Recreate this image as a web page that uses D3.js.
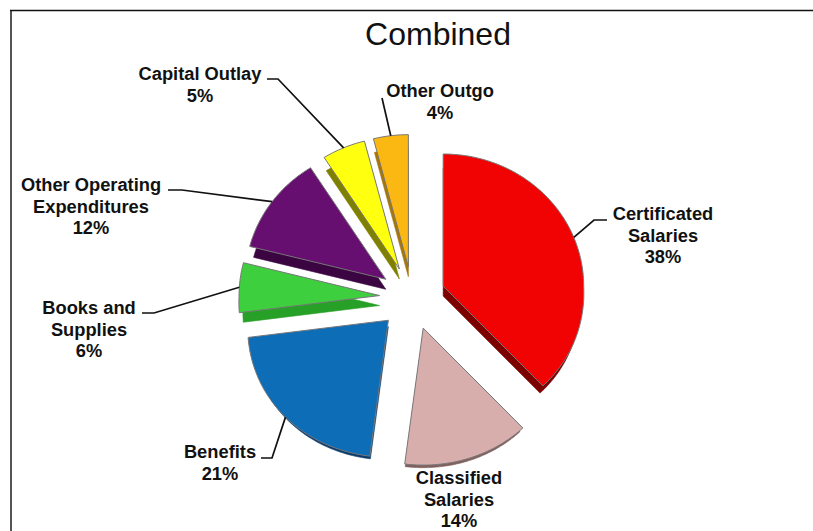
<!DOCTYPE html>
<html>
<head>
<meta charset="utf-8">
<style>
html,body{margin:0;padding:0;background:#fff;}
svg{display:block;}
text{font-family:"Liberation Sans",Arial,sans-serif;fill:#111;}
</style>
<script src="https://cdn.jsdelivr.net/npm/d3@7"></script>
</head>
<body>
<svg id="chart" width="813" height="531"></svg>
<script>
const categories = ["Certificated Salaries","Classified Salaries","Benefits","Books and Supplies","Other Operating Expenditures","Capital Outlay","Other Outgo"];
const shares = [38,14,21,6,12,5,4];
const labelLines = [["Certificated","Salaries"],["Classified","Salaries"],["Benefits"],["Books and","Supplies"],["Other Operating","Expenditures"],["Capital Outlay"],["Other Outgo"]];
const faceColors = ["#f20303","#d8aeac","#0d6db6","#3ecf3e","#660f70","#ffff10","#fbb812"];
const wallColors = ["#7c0000","#80605f","#0a3c6c","#27a027","#3a0540","#7f7f00","#a5760c"];

// Label anchor (centre x, first baseline) and leader start/knee for each slice
const labelAnchors = [[663,220],[459,484],[220,458],[89,314],[91,191],[200,80],[440,97]];
const leaderStarts = [[607,220],null,[261,458],[142,313],[168,190],[267,79],[382,98]];
const leaderKnees = [[594,220],null,[272,458],[154,313],[182,190],[278,79],null];

const svg = d3.select("#chart");
const W = 813, H = 531;
const cx = 412.5, cy = 297.5, rx = 140.5, explode = 33, depth = 10, wallInset = 4;
// The pie is viewed at a slant: the near half reads taller and wider than the far half
const tiltFar = 0.94, tiltNear = 0.975, nearWiden = 0.05;

// Polar position on the slanted disc; angle 0 points up, clockwise
const project = (a, r) => {
  const c = Math.cos(a);
  return [r*Math.sin(a)*(1 + nearWiden*Math.max(0,-c)), -r*c*(c > 0 ? tiltFar : tiltNear)];
};

// Frame: top and left rules only, running off the page
svg.append("path").attr("d", `M11,${H}V10`).attr("fill","none").attr("stroke","#555").attr("stroke-width",2);
svg.append("path").attr("d", `M10,10.5H${W}`).attr("fill","none").attr("stroke","#111").attr("stroke-width",1.5);

svg.append("text").attr("x",438).attr("y",45).attr("text-anchor","middle").attr("font-size",32).text("Combined");

const pie = d3.pie().sort(null).value(d => d)(shares);
const midAngle = d => (d.startAngle + d.endAngle) / 2;
const line = d3.line();

// Outline of one slice: apex, then the rim sampled along the projected ellipse
const outline = (d, radius) => {
  const steps = Math.ceil((d.endAngle - d.startAngle) / 0.02);
  const rim = d3.range(steps + 1).map(k =>
    project(d.startAngle + (d.endAngle - d.startAngle)*k/steps, radius));
  return line([[0,0], ...rim]) + "Z";
};

const slices = svg.append("g").selectAll("g").data(pie).join("g")
  .attr("transform", d => {
    const [ox, oy] = project(midAngle(d), explode);
    return `translate(${cx + ox},${cy + oy})`;
  });

// Side wall: a darker copy pushed downward, shallower for slices facing the viewer
slices.append("path").attr("d", d => outline(d, rx - wallInset))
  .attr("transform", d => `translate(0,${Math.cos(midAngle(d)) < -0.5 ? depth*0.65 : depth})`)
  .attr("fill", (d,i) => wallColors[i])
  .attr("stroke", (d,i) => wallColors[i]).attr("stroke-width", 0.6);
slices.append("path").attr("d", d => outline(d, rx))
  .attr("fill", (d,i) => faceColors[i])
  .attr("stroke", "#777").attr("stroke-width", 1).attr("stroke-linejoin","round");

// Leaders run from the rim of each slice to its label
pie.forEach((d,i) => {
  if (!leaderStarts[i]) return;
  const [ax, ay] = project(midAngle(d), explode + rx);
  const pts = [leaderStarts[i]];
  if (leaderKnees[i]) pts.push(leaderKnees[i]);
  pts.push([cx + ax, cy + ay]);
  svg.append("path").attr("d", line(pts)).attr("fill","none").attr("stroke","#111").attr("stroke-width",1.7);
});

// Category name lines followed by the percentage
const lineHeight = 21.5;
labelAnchors.forEach((a,i) => {
  const t = svg.append("text").attr("text-anchor","middle").attr("font-size",18.3).attr("font-weight","bold");
  labelLines[i].concat(shares[i] + "%").forEach((s,j) => {
    t.append("tspan").attr("x",a[0]).attr("y",a[1] + j*lineHeight).text(s);
  });
});
</script>
</body>
</html>
